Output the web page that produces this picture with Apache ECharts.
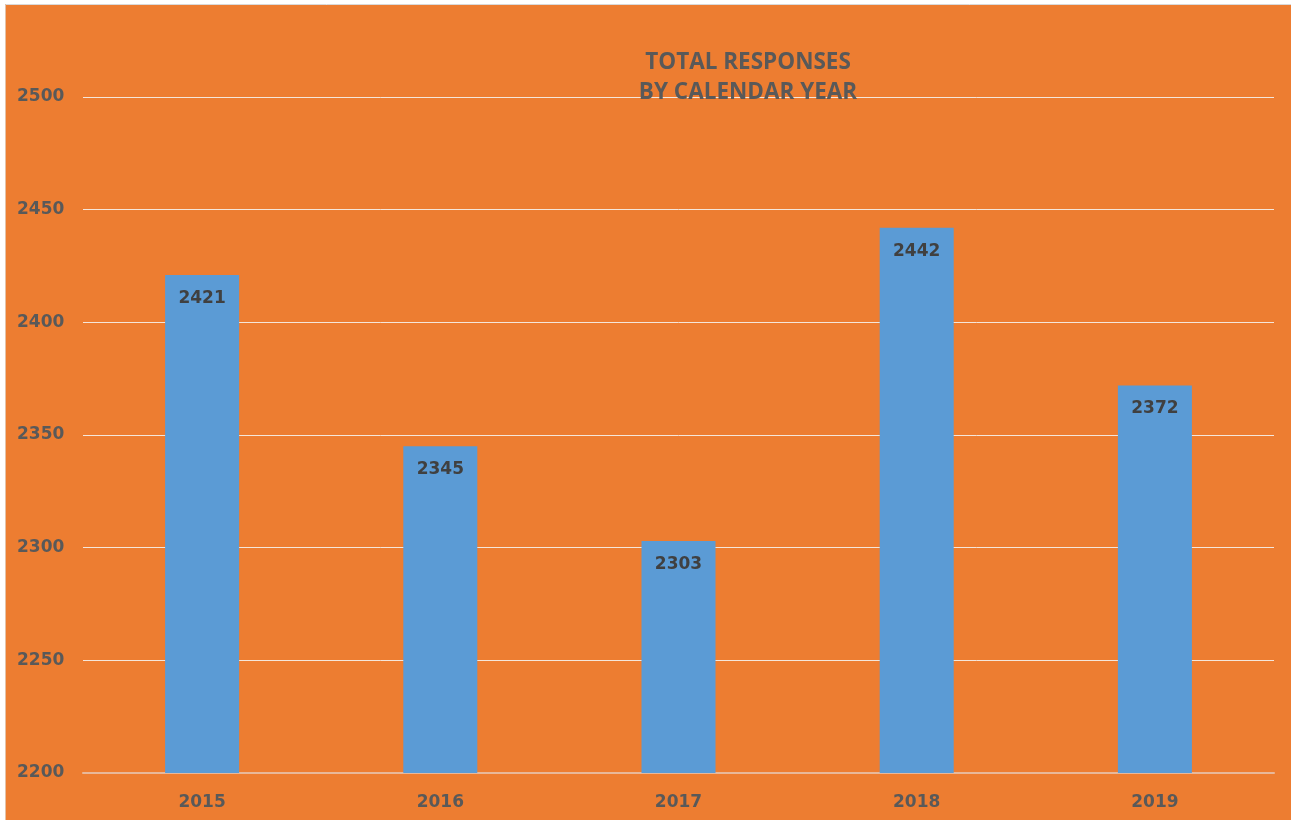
<!DOCTYPE html>
<html>
<head>
<meta charset="utf-8">
<script src="https://cdn.jsdelivr.net/npm/echarts@6/dist/echarts.min.js"></script>
<style>
html,body{margin:0;padding:0;background:#fff;}
#c{width:1291px;height:820px;}
</style>
</head>
<body>
<div id="c"></div>
<script>
const categories = ['2015', '2016', '2017', '2018', '2019'];
const responses = [2421, 2345, 2303, 2442, 2372];
const yTicks = { min: 2200, max: 2500, interval: 50 };
const titleLines = ['TOTAL RESPONSES', 'BY CALENDAR YEAR'];

const chart = echarts.init(document.getElementById('c'), null, { renderer: 'canvas' });
const titleFont = '"Open Sans", "Liberation Sans", Arial, sans-serif';
const numFont = '"DejaVu Sans", Verdana, sans-serif';
chart.setOption({
  backgroundColor: '#ffffff',
  animation: false,
  graphic: [
    { type: 'rect', z: -10, silent: true, shape: { x: 6, y: 5, width: 1285, height: 815 }, style: { fill: '#ED7D31' } },
    { type: 'line', z: -9, silent: true, shape: { x1: 5, y1: 4.5, x2: 1291, y2: 4.5 }, style: { stroke: '#D9D9D9', lineWidth: 1 } },
    { type: 'line', z: -9, silent: true, shape: { x1: 5.5, y1: 4, x2: 5.5, y2: 820 }, style: { stroke: '#E3C2A8', lineWidth: 1 } }
  ],
  title: {
    text: titleLines.join('\n'),
    left: 743,
    top: 43,
    textAlign: 'center',
    textStyle: { fontFamily: titleFont, fontSize: 22.5, fontWeight: 'bold', color: '#595959', lineHeight: 30 }
  },
  grid: { left: 83, right: 17, top: 97, bottom: 47 },
  xAxis: {
    type: 'category',
    data: categories,
    axisTick: { show: false },
    axisLine: { show: true, lineStyle: { color: '#E8B89A', width: 2 } },
    axisLabel: { margin: 21, fontFamily: numFont, fontSize: 17, fontWeight: 'bold', color: '#595959' }
  },
  yAxis: {
    type: 'value',
    min: yTicks.min, max: yTicks.max, interval: yTicks.interval,
    axisLine: { show: false },
    axisTick: { show: false },
    splitLine: { lineStyle: { color: '#F5E6DA', width: 1 } },
    axisLabel: { margin: 66, align: 'left', formatter: v => String(v), fontFamily: numFont, fontSize: 17, fontWeight: 'bold', color: '#595959' }
  },
  series: [{
    type: 'bar',
    data: responses,
    barWidth: 74,
    itemStyle: { color: '#5B9BD5' },
    label: {
      show: true,
      position: 'insideTop',
      distance: 15,
      fontFamily: numFont, fontSize: 17, fontWeight: 'bold', color: '#404040'
    }
  }]
});
</script>
</body>
</html>
